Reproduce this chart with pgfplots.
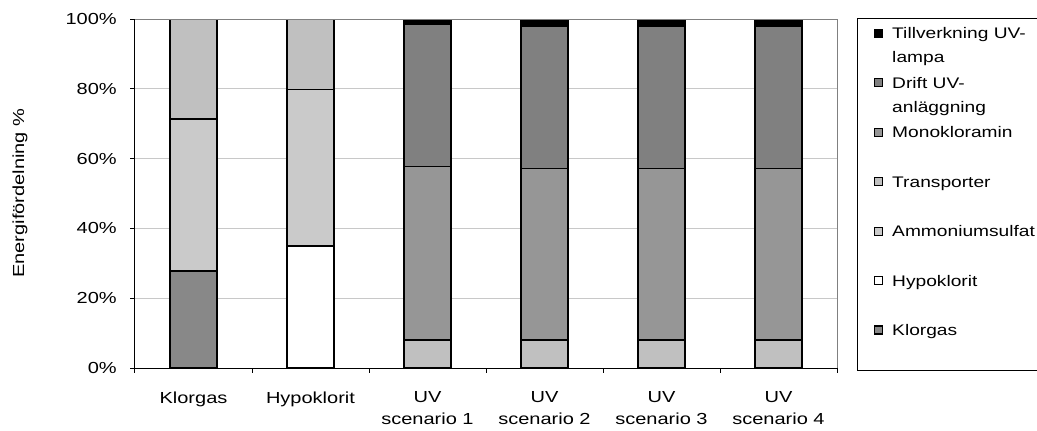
\documentclass[border=0pt]{standalone}
\usepackage{pgfplots}
\pgfplotsset{compat=1.18}
\usepackage{fontspec}
\setmainfont[FakeStretch=1.25]{Liberation Sans}
\definecolor{cKlor}{HTML}{888888}
\definecolor{cHypo}{HTML}{FFFFFF}
\definecolor{cAmm}{HTML}{CACACA}
\definecolor{cTrans}{HTML}{C0C0C0}
\definecolor{cMono}{HTML}{969696}
\definecolor{cDrift}{HTML}{808080}
\definecolor{cTill}{HTML}{000000}
\definecolor{gridc}{HTML}{C8C8C8}
\newcommand{\twoline}[2]{\begin{tabular}[t]{@{}l@{}}#1\\[1.5pt]#2\end{tabular}}
\begin{document}
\fontsize{12pt}{16.5pt}\selectfont
\begin{tikzpicture}
\useasboundingbox (0,0) rectangle (777.75pt,322.5pt);
\begin{axis}[
  at={(101.25pt,46.5pt)}, anchor=south west,
  scale only axis, width=526.5pt, height=261.75pt,
  ybar stacked, bar width=35.5pt,
  xmin=-0.5, xmax=5.5, ymin=0, ymax=100,
  enlargelimits=false,
  axis x line*=bottom, axis y line*=left,
  axis line style={black, line width=0.75pt},
  tick align=outside,
  major tick length=3.5pt, minor tick length=3.5pt,
  xtick={0,1,2,3,4,5},
  xticklabels={Klorgas,Hypoklorit,{UV\\scenario 1},{UV\\scenario 2},{UV\\scenario 3},{UV\\scenario 4}},
  xticklabel style={align=center, yshift=-10pt},
  minor xtick={-0.5,0.5,1.5,2.5,3.5,4.5,5.5},
  major x tick style={draw=none},
  minor x tick style={draw=black, line width=0.75pt},
  ytick={0,20,40,60,80,100},
  yticklabel={\pgfmathprintnumber{\tick}\%},
  yticklabel style={xshift=-6pt},
  y tick style={draw=black, line width=0.75pt},
  /pgf/number format/assume math mode=true,
  ymajorgrids, y grid style={gridc, line width=0.75pt},
  ylabel={Energifördelning \%},
  ylabel style={at={(axis description cs:-0.1638,0.501)}, anchor=center},
  legend style={at={(1.0285,1.003)}, anchor=north west, draw=black, line width=0.75pt,
    inner xsep=12pt, inner ysep=2pt, row sep=0pt,
    font=\fontsize{11.5pt}{16.5pt}\selectfont,
    cells={anchor=base west},
    nodes={inner sep=0pt, text height=13.4pt, text depth=23.7pt}},
  reverse legend,
  every axis plot post/.append style={draw=black, line width=1.2pt,
    legend image code/.code={\draw[#1, draw=black, line width=0.9pt] (0pt,1.3pt) rectangle (6pt,7.3pt); \path (13pt,0pt);}},
  after end axis/.code={\draw[gray, line width=0.75pt] (rel axis cs:0,1) -- (rel axis cs:1,1) -- (rel axis cs:1,0);},
]
\addplot[fill=cKlor] coordinates {(0,27.8) (1,0) (2,0) (3,0) (4,0) (5,0)};
\addlegendentry{Klorgas}
\addplot[fill=cHypo] coordinates {(0,0) (1,35.0) (2,0) (3,0) (4,0) (5,0)};
\addlegendentry{Hypoklorit}
\addplot[fill=cAmm] coordinates {(0,43.5) (1,44.8) (2,0) (3,0) (4,0) (5,0)};
\addlegendentry{Ammoniumsulfat}
\addplot[fill=cTrans] coordinates {(0,28.7) (1,20.2) (2,8.0) (3,8.0) (4,8.0) (5,8.0)};
\addlegendentry{Transporter}
\addplot[fill=cMono] coordinates {(0,0) (1,0) (2,49.7) (3,49.2) (4,49.2) (5,49.2)};
\addlegendentry{Monokloramin}
\addplot[fill=cDrift] coordinates {(0,0) (1,0) (2,40.7) (3,40.8) (4,40.8) (5,40.8)};
\addlegendentry{\twoline{Drift UV-}{anläggning}}
\addplot[fill=cTill] coordinates {(0,0) (1,0) (2,1.6) (3,2.0) (4,2.0) (5,2.0)};
\addlegendentry{\twoline{Tillverkning UV-}{lampa}}
\end{axis}
\end{tikzpicture}
\end{document}
